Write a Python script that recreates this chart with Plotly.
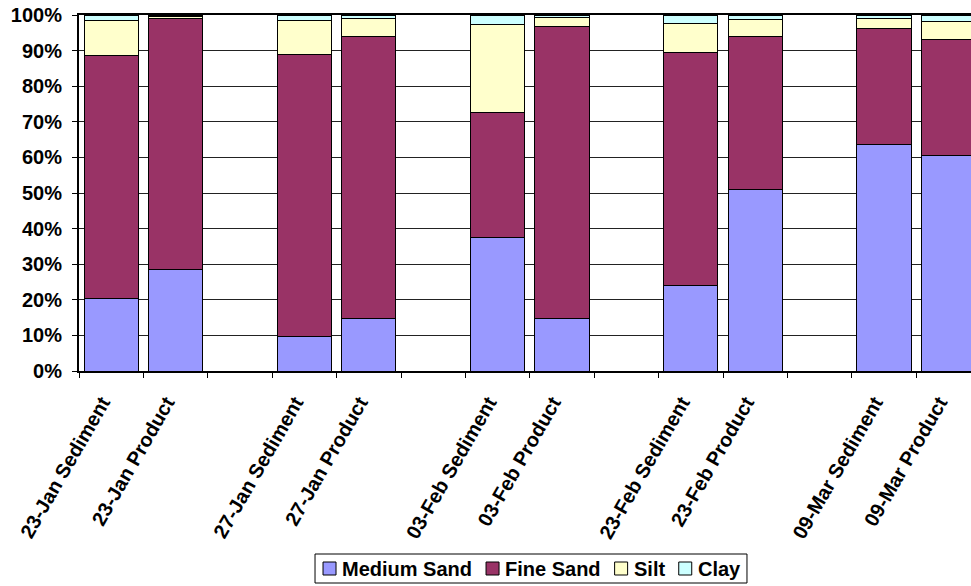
import plotly.graph_objects as go

# Particle-size fractions (% of sample) for each sampling date
samples = [
    "23-Jan Sediment", "23-Jan Product",
    "27-Jan Sediment", "27-Jan Product",
    "03-Feb Sediment", "03-Feb Product",
    "23-Feb Sediment", "23-Feb Product",
    "09-Mar Sediment", "09-Mar Product",
]
medium_sand = [20.3, 28.5, 9.8, 14.8, 37.6, 14.8, 24.0, 51.1, 63.7, 60.4]
fine_sand = [68.2, 70.4, 79.2, 79.1, 34.9, 82.1, 65.4, 43.0, 32.5, 32.8]
silt = [9.9, 0.6, 9.5, 5.2, 24.9, 2.3, 8.1, 4.5, 2.8, 5.1]
clay = [1.6, 0.5, 1.5, 0.9, 2.6, 0.8, 2.5, 1.4, 1.0, 1.7]

y_ticks = list(range(0, 101, 10))
y_tick_labels = [f"{v}%" for v in y_ticks]

series = [
    ("Medium Sand", medium_sand, "#9999FF"),
    ("Fine Sand", fine_sand, "#993366"),
    ("Silt", silt, "#FFFFCC"),
    ("Clay", clay, "#CCFFFF"),
]

# x-axis order: an empty slot between consecutive sampling dates
slot_order = []
for i in range(0, len(samples), 2):
    if i:
        slot_order.append(" " * (i // 2))
    slot_order += samples[i:i + 2]

FONT = "Liberation Sans, Arial, sans-serif"
FONT_SIZE = 20
LABEL_FONT = dict(family=FONT, size=FONT_SIZE, color="black", weight="bold")

W, H = 971, 586
M_L, M_R, M_T, M_B = 79, 0, 15, 215
PLOT_W, PLOT_H = W - M_L - M_R, H - M_T - M_B

fig = go.Figure()
for name, vals, color in series:
    fig.add_trace(go.Bar(
        name=name, x=samples, y=vals, showlegend=False,
        marker=dict(color=color, line=dict(color="black", width=1)),
    ))

# ---- compact boxed legend along the bottom (swatch + bold label) ----
# Arial Bold advance widths (per 1000 em) for the legend glyphs
ARIAL_BOLD = {" ": 278, "C": 722, "F": 611, "M": 833, "S": 667, "a": 556,
              "d": 611, "e": 556, "i": 278, "l": 278, "m": 889, "n": 611,
              "t": 333, "u": 611, "y": 556}


def text_px(s):
    return sum(ARIAL_BOLD.get(c, 600) for c in s) * FONT_SIZE / 1000


def px_x(px):
    return (px - M_L) / PLOT_W


def px_y(py):
    return (H - M_B - py) / PLOT_H


SW, SW_GAP, ITEM_GAP, PAD = 13, 5, 15, 8
LEG_CX, LEG_TOP, LEG_BOT = 531, 554, 583
leg_mid = (LEG_TOP + LEG_BOT) / 2
leg_w = 2 * PAD + sum(SW + SW_GAP + text_px(n) for n, _, _ in series) \
    + ITEM_GAP * (len(series) - 1)
left = LEG_CX - leg_w / 2

shapes = [dict(type="rect", xref="paper", yref="paper",
               x0=px_x(left), x1=px_x(left + leg_w),
               y0=px_y(LEG_BOT), y1=px_y(LEG_TOP),
               line=dict(color="black", width=1), fillcolor="white",
               layer="above")]
annotations = []
cur = left + PAD
for name, _, color in series:
    shapes.append(dict(type="rect", xref="paper", yref="paper",
                       x0=px_x(cur), x1=px_x(cur + SW),
                       y0=px_y(leg_mid + SW / 2), y1=px_y(leg_mid - SW / 2),
                       line=dict(color="black", width=1), fillcolor=color,
                       layer="above"))
    annotations.append(dict(xref="paper", yref="paper",
                            x=px_x(cur + SW + SW_GAP), y=px_y(leg_mid + 1),
                            xanchor="left", yanchor="middle",
                            text=name, showarrow=False, font=LABEL_FONT,
                            borderpad=0))
    cur += SW + SW_GAP + text_px(name) + ITEM_GAP

fig.update_layout(
    width=W, height=H,
    barmode="stack", bargap=0.16,
    paper_bgcolor="white", plot_bgcolor="white",
    margin=dict(l=M_L, r=M_R, t=M_T, b=M_B),
    font=LABEL_FONT,
    showlegend=False,
    shapes=shapes,
    annotations=annotations,
    xaxis=dict(
        type="category", categoryorder="array", categoryarray=slot_order,
        range=[-0.5, -0.5 + PLOT_W / 64.4],
        tickson="boundaries", ticks="outside", ticklen=5,
        tickcolor="black", tickwidth=1,
        showgrid=False, showline=True, linecolor="black", linewidth=2,
        mirror=True, tickangle=-60, ticklabelstandoff=10,
        ticklabelshift=-9,
        tickfont=LABEL_FONT,
    ),
    yaxis=dict(
        range=[0, 100], tickmode="array",
        tickvals=y_ticks, ticktext=y_tick_labels,
        ticks="outside", ticklen=5, tickcolor="black",
        showgrid=True, gridcolor="#222222", gridwidth=1,
        showline=True, linecolor="black", linewidth=2,
        zeroline=False, ticklabelstandoff=6,
        tickfont=LABEL_FONT,
    ),
)

fig.write_html("out.html")
